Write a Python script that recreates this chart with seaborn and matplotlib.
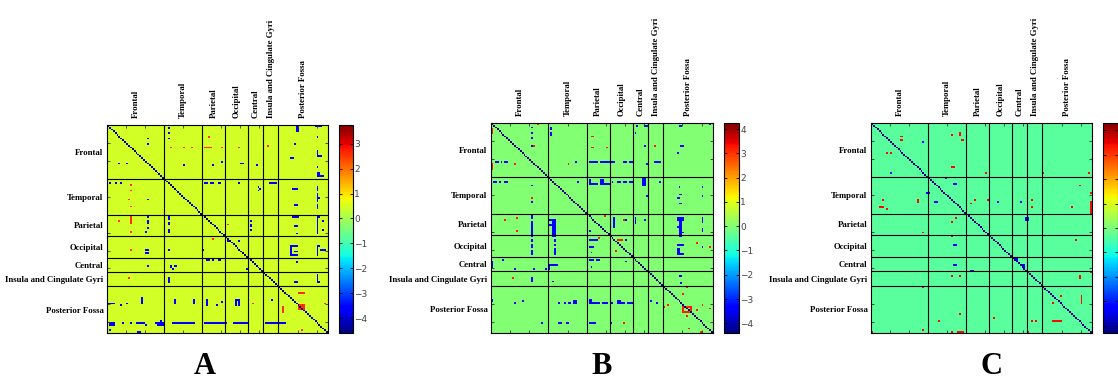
import numpy as np
import pandas as pd
import seaborn as sns
import matplotlib.pyplot as plt

# regions of the 116-node (AAL) connectivity matrix
regions = ['Frontal', 'Temporal', 'Parietal', 'Occipital', 'Central',
           'Insula and Cingulate Gyri', 'Posterior Fossa']
region_sizes = [30, 20, 12, 12, 8, 8, 26]
panel_names = ['A', 'B', 'C']

# colour limits, background level and levels of the significant cells
color_limits = [(-4.6, 3.75), (-4.4, 4.25), (-4.3, 4.3)]
background_levels = [0.45, 0.0, -0.35]
neg_levels = [-3.6, -3.4, -3.2]
pos_levels = [2.6, 3.2, 3.4]
cbar_ticks = [[-4, -3, -2, -1, 0, 1, 2, 3],
              [-4, -3, -2, -1, 0, 1, 2, 3, 4],
              [-4, -3, -2, -1, 0, 1, 2, 3, 4]]
show_cbar_labels = [True, True, False]

# significant cells as blocks (row0, row1, col0, col1), inclusive
a_neg = [(7, 7, 21, 21), (10, 10, 21, 21), (1, 1, 32, 32), (4, 4, 32, 32), (7, 7, 32, 32),
         (21, 21, 6, 6), (21, 21, 10, 10), (22, 22, 40, 40), (22, 22, 55, 55), (20, 20, 60, 60),
         (21, 21, 70, 71), (22, 22, 78, 78), (0, 3, 99, 100), (10, 10, 98, 98), (18, 18, 96, 97),
         (0, 0, 109, 112), (6, 6, 110, 110), (14, 17, 110, 110), (17, 17, 111, 112),
         (23, 23, 110, 110), (26, 28, 110, 111), (28, 28, 112, 113),
         (32, 32, 1, 1), (32, 32, 4, 4), (32, 32, 7, 7), (41, 41, 21, 21),
         (32, 32, 51, 52), (32, 32, 54, 55), (32, 32, 58, 59), (32, 32, 69, 69),
         (34, 34, 79, 79), (36, 36, 79, 79), (35, 35, 80, 80), (32, 32, 85, 88),
         (35, 35, 97, 99), (44, 44, 98, 99), (34, 36, 110, 110), (38, 42, 110, 110),
         (44, 46, 110, 110), (40, 40, 111, 111),
         (51, 51, 21, 21), (53, 54, 21, 21), (57, 57, 21, 21), (59, 59, 20, 20),
         (51, 52, 32, 32), (54, 55, 32, 32), (58, 59, 32, 32), (50, 50, 50, 50),
         (53, 53, 75, 75), (55, 56, 75, 75), (58, 58, 75, 75), (51, 51, 97, 100),
         (56, 56, 98, 99), (60, 60, 99, 99), (51, 60, 110, 110), (51, 51, 111, 111),
         (53, 53, 113, 113), (58, 58, 113, 113),
         (69, 69, 20, 21), (71, 71, 20, 21), (69, 69, 32, 32), (69, 69, 50, 50),
         (64, 64, 63, 64), (64, 64, 69, 69), (70, 70, 70, 70), (67, 67, 96, 99),
         (67, 72, 96, 96), (72, 72, 96, 99), (70, 70, 98, 99), (67, 72, 110, 110),
         (69, 69, 112, 114), (67, 67, 111, 111),
         (78, 78, 21, 21), (78, 79, 33, 33), (80, 80, 34, 34), (78, 78, 35, 36),
         (75, 75, 52, 53), (75, 75, 55, 55), (75, 75, 58, 59), (80, 80, 73, 73), (76, 76, 99, 99),
         (85, 87, 32, 32), (87, 87, 98, 99), (83, 87, 110, 110), (87, 87, 111, 111),
         (99, 99, 0, 3), (100, 100, 7, 7), (99, 99, 10, 10), (96, 99, 18, 18),
         (97, 99, 35, 35), (97, 99, 45, 45), (97, 100, 52, 52), (100, 100, 57, 57),
         (98, 98, 60, 60), (97, 100, 67, 67), (97, 97, 67, 69), (97, 100, 69, 69), (97, 97, 86, 86),
         (110, 111, 1, 3), (110, 110, 8, 8), (110, 110, 12, 12), (110, 110, 15, 19),
         (111, 111, 20, 20), (110, 110, 25, 25), (110, 111, 26, 29), (110, 110, 34, 45),
         (110, 110, 51, 62), (110, 110, 66, 73), (110, 110, 83, 93),
         (114, 114, 1, 1), (115, 115, 16, 17), (109, 109, 28, 28)]
a_pos = [(12, 12, 33, 33), (12, 12, 40, 40), (12, 12, 44, 44), (6, 6, 53, 53),
         (12, 12, 51, 54), (12, 12, 60, 60), (12, 12, 69, 69), (11, 11, 84, 84),
         (33, 33, 12, 12), (36, 36, 12, 12), (41, 41, 11, 11), (45, 45, 12, 12),
         (53, 53, 6, 6), (51, 54, 12, 12), (59, 59, 12, 12), (50, 50, 59, 59),
         (55, 55, 63, 63), (63, 63, 55, 55), (69, 69, 12, 12), (85, 85, 11, 11),
         (99, 99, 76, 76), (93, 93, 100, 103), (101, 104, 92, 92), (100, 102, 100, 103),
         (114, 114, 102, 102), (99, 99, 114, 114)]

b_neg = [(2, 2, 21, 21), (5, 5, 21, 21), (8, 8, 21, 21), (12, 12, 21, 21),
         (21, 21, 2, 3), (21, 21, 5, 5), (21, 21, 7, 8), (20, 20, 20, 20),
         (2, 3, 31, 31), (5, 6, 31, 31), (21, 21, 44, 44), (21, 21, 51, 55), (21, 21, 57, 63),
         (21, 21, 64, 64), (21, 21, 69, 70), (21, 21, 72, 73), (5, 5, 75, 75), (1, 1, 76, 76),
         (1, 1, 80, 81), (12, 12, 80, 80), (21, 21, 85, 88), (22, 22, 81, 81),
         (1, 1, 98, 99), (12, 12, 99, 100), (16, 16, 97, 97), (0, 0, 114, 114),
         (32, 32, 1, 2), (32, 32, 4, 4), (32, 32, 7, 8), (34, 34, 21, 21), (43, 43, 21, 21),
         (32, 32, 45, 45), (31, 33, 51, 51), (33, 33, 51, 55), (31, 33, 57, 58), (33, 33, 58, 61),
         (32, 32, 63, 63), (32, 32, 66, 67), (32, 32, 69, 70), (32, 32, 72, 73),
         (30, 34, 79, 80), (40, 40, 81, 81), (32, 32, 88, 88), (35, 35, 98, 98),
         (39, 39, 98, 99), (41, 41, 97, 98), (44, 44, 98, 99), (35, 35, 110, 110), (40, 40, 110, 110),
         (51, 52, 21, 21), (54, 62, 21, 21), (53, 53, 30, 33), (53, 62, 32, 33), (56, 56, 30, 31),
         (59, 59, 51, 51), (52, 57, 64, 64), (53, 53, 70, 70), (52, 55, 75, 75), (53, 53, 80, 80),
         (52, 53, 97, 100), (54, 62, 98, 99), (57, 57, 97, 97), (60, 60, 100, 100),
         (52, 54, 110, 110), (58, 59, 110, 110),
         (64, 65, 21, 21), (67, 68, 21, 21), (70, 72, 21, 21), (64, 65, 33, 33), (67, 67, 33, 33),
         (69, 72, 33, 33), (64, 64, 51, 55), (68, 68, 51, 53), (71, 71, 52, 52), (64, 64, 64, 64),
         (64, 64, 70, 70), (67, 67, 97, 100), (69, 72, 97, 98), (72, 72, 99, 100), (68, 68, 110, 110),
         (76, 79, 0, 0), (75, 75, 6, 6), (80, 80, 12, 12), (80, 80, 22, 22), (78, 78, 30, 34),
         (79, 80, 30, 30), (80, 80, 28, 28), (75, 75, 51, 53), (75, 75, 55, 56), (79, 79, 52, 52),
         (76, 76, 70, 70),
         (85, 87, 21, 21), (87, 87, 32, 32), (84, 84, 98, 99), (88, 88, 99, 99),
         (97, 98, 0, 0), (99, 99, 12, 12), (98, 98, 16, 16), (99, 99, 35, 35), (99, 99, 38, 38),
         (99, 99, 40, 41), (98, 99, 43, 44), (97, 99, 51, 52), (99, 99, 53, 56), (99, 99, 58, 60),
         (99, 99, 62, 63), (98, 99, 66, 67), (99, 99, 68, 69), (99, 99, 71, 73), (98, 98, 83, 83),
         (99, 99, 86, 86), (110, 110, 26, 26), (110, 110, 35, 36), (110, 110, 39, 40),
         (110, 110, 51, 54), (110, 110, 62, 62)]
b_pos = [(3, 5, 0, 0), (22, 25, 0, 0), (0, 0, 24, 24), (12, 12, 22, 22), (22, 22, 12, 12),
         (22, 22, 40, 40), (7, 7, 52, 53), (13, 13, 52, 53), (13, 13, 60, 60), (12, 12, 85, 85),
         (41, 41, 21, 21), (53, 53, 7, 7), (52, 52, 13, 13), (59, 59, 13, 13), (51, 51, 59, 59),
         (53, 53, 69, 69), (63, 63, 56, 56), (70, 70, 65, 65), (64, 64, 66, 68), (66, 66, 107, 107),
         (68, 68, 114, 114), (85, 85, 11, 11), (101, 101, 90, 90), (100, 100, 92, 92),
         (90, 90, 102, 102), (94, 94, 100, 100), (101, 104, 100, 100), (101, 101, 100, 104),
         (104, 104, 100, 104), (101, 103, 104, 104), (102, 102, 102, 102), (106, 106, 102, 102),
         (103, 103, 107, 107), (100, 100, 110, 110), (102, 102, 114, 114), (110, 110, 69, 69),
         (113, 113, 103, 103), (115, 115, 109, 110)]

c_neg = [(10, 10, 27, 27), (27, 27, 10, 10), (30, 30, 39, 39), (33, 33, 43, 44), (38, 38, 29, 30),
         (43, 43, 33, 34), (43, 43, 66, 66), (43, 43, 78, 78), (52, 53, 81, 82), (67, 67, 43, 44),
         (78, 78, 43, 44), (81, 81, 52, 53), (74, 75, 75, 76), (78, 79, 79, 80)]
c_pos = [(7, 7, 15, 16), (9, 9, 15, 16), (16, 16, 8, 8), (16, 16, 10, 10), (6, 6, 42, 42),
         (5, 6, 46, 46), (9, 9, 47, 48), (24, 24, 42, 43), (27, 27, 60, 60), (27, 27, 90, 90),
         (27, 27, 114, 114), (42, 42, 6, 6), (46, 46, 4, 6), (47, 47, 8, 8), (42, 43, 24, 24),
         (44, 44, 52, 52), (42, 42, 54, 54), (42, 42, 61, 61), (42, 42, 84, 84), (46, 46, 84, 84),
         (34, 34, 109, 109), (46, 46, 105, 105), (38, 38, 115, 115), (43, 49, 115, 115),
         (54, 54, 42, 42), (52, 52, 44, 44), (60, 60, 27, 27), (62, 62, 42, 42), (64, 64, 107, 107),
         (84, 84, 42, 42), (84, 84, 46, 46), (84, 85, 109, 109), (82, 82, 115, 115),
         (90, 90, 27, 27), (95, 95, 99, 99), (99, 99, 95, 95), (95, 99, 110, 110), (105, 105, 46, 46),
         (107, 107, 64, 64), (109, 109, 35, 35), (109, 109, 84, 84), (109, 109, 86, 86),
         (109, 109, 95, 99), (114, 114, 27, 27), (115, 115, 0, 0), (115, 115, 42, 42),
         (115, 115, 45, 48), (115, 115, 82, 82)]

neg_blocks = [a_neg, b_neg, c_neg]
pos_blocks = [a_pos, b_pos, c_pos]


def build_matrix(k):
    n = sum(region_sizes)
    mat = np.full((n, n), background_levels[k])
    for r0, r1, c0, c1 in neg_blocks[k]:
        mat[r0:r1 + 1, c0:c1 + 1] = neg_levels[k]
    for r0, r1, c0, c1 in pos_blocks[k]:
        mat[r0:r1 + 1, c0:c1 + 1] = pos_levels[k]
    np.fill_diagonal(mat, color_limits[k][0])
    return pd.DataFrame(mat)


W, H = 1118, 382
fig = plt.figure(figsize=(W / 100, H / 100), dpi=100)

# panel boxes in pixels: heatmap (x0, y0, x1, y1), colorbar x0, x1
heat_px = [(107, 125, 328, 333), (491, 123, 713, 333), (871, 123, 1092, 333)]
cbar_px = [(339, 353), (724, 739), (1103, 1118)]
letter_x = [205, 602, 991]

n = sum(region_sizes)
bounds = np.cumsum(region_sizes)[:-1]
centers = np.cumsum(region_sizes) - np.array(region_sizes) / 2.0

for k in range(3):
    x0, y0, x1, y1 = heat_px[k]
    ax = fig.add_axes([x0 / W, 1 - y1 / H, (x1 - x0) / W, (y1 - y0) / H])
    cx0, cx1 = cbar_px[k]
    cax = fig.add_axes([cx0 / W, 1 - y1 / H, (cx1 - cx0) / W, (y1 - y0) / H])

    vmin, vmax = color_limits[k]
    sns.heatmap(build_matrix(k), cmap='jet', vmin=vmin, vmax=vmax, ax=ax, cbar_ax=cax,
                xticklabels=False, yticklabels=False, square=False)

    ax.hlines(bounds, 0, n, colors='black', lw=0.8)
    ax.vlines(bounds, 0, n, colors='black', lw=0.8)
    for sp in ax.spines.values():
        sp.set_visible(True)
        sp.set_color('black')
        sp.set_linewidth(0.8)

    # small inward ticks every 10 nodes, region names at region centres
    ax.xaxis.remove_overlapping_locs = False
    ax.yaxis.remove_overlapping_locs = False
    ax.set_xticks(np.arange(10, n, 10))
    ax.set_yticks(np.arange(10, n, 10))
    ax.set_xticks(centers, minor=True)
    ax.set_yticks(centers, minor=True)
    ax.set_xticklabels([], minor=False)
    ax.set_yticklabels([], minor=False)
    ax.set_xticklabels(regions, minor=True, rotation=90, fontsize=6.3,
                       fontweight='bold', family='Liberation Serif')
    ax.set_yticklabels(regions, minor=True, rotation=0, fontsize=6.3,
                       fontweight='bold', family='Liberation Serif')
    ax.tick_params(which='major', direction='in', length=2.5, width=0.6, color='#333333',
                   top=True, bottom=True, left=True, right=True)
    ax.tick_params(which='minor', length=0, pad=2.5, labeltop=True, labelbottom=False,
                   labelleft=True, labelright=False)
    ax.tick_params(axis='x', which='minor', pad=5)

    cbar = ax.collections[0].colorbar
    cbar.set_ticks(cbar_ticks[k])
    cbar.outline.set_visible(True)
    cbar.outline.set_edgecolor('black')
    cbar.outline.set_linewidth(0.8)
    cax.tick_params(direction='in', length=2.5, width=0.6, left=True, right=True,
                    labelsize=6.5, labelcolor='#444444', pad=1,
                    labelright=show_cbar_labels[k])

    fig.text(letter_x[k] / W, 1 - 367 / H, panel_names[k], fontsize=22,
             fontweight='bold', family='Liberation Serif', ha='center', va='center')

fig.savefig('out.png', dpi=100)
